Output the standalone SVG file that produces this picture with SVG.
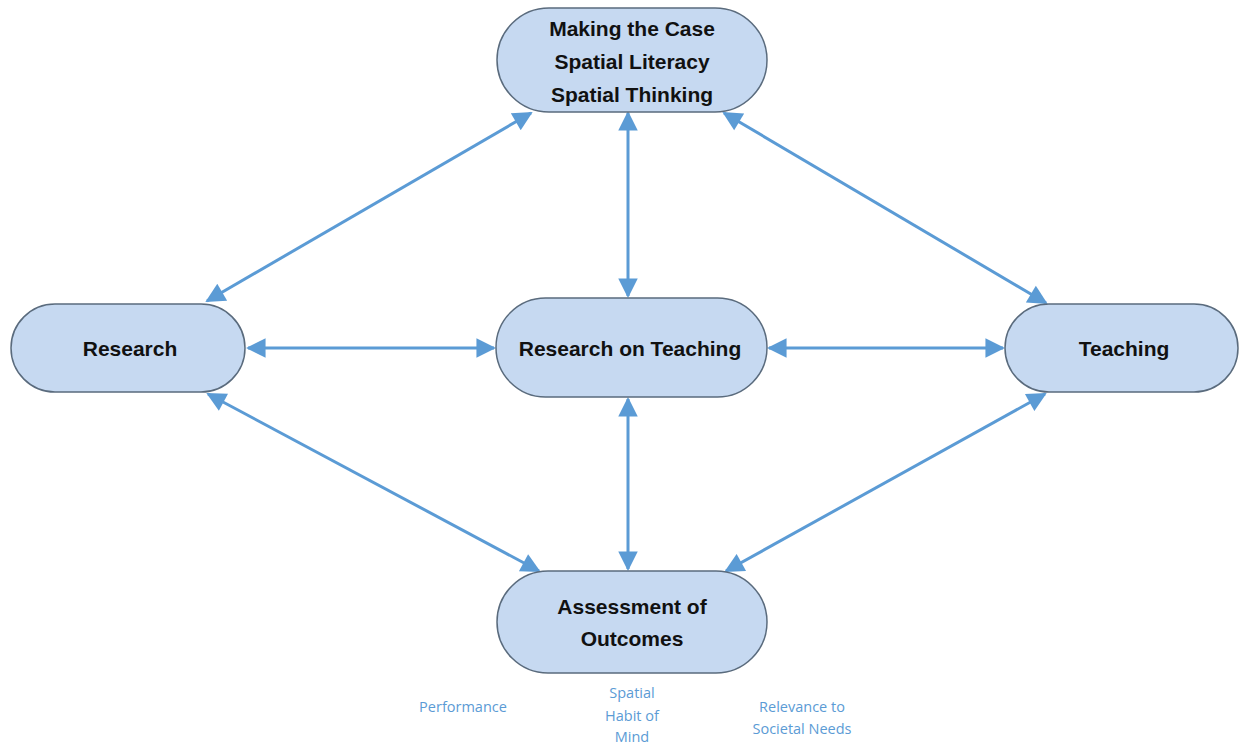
<svg xmlns="http://www.w3.org/2000/svg" width="1239" height="745" viewBox="0 0 1239 745">
<style>
.node{fill:#c6d9f1;stroke:#5a6b7d;stroke-width:1.5}
.lbl{font-family:"Liberation Sans",Arial,sans-serif;font-weight:bold;font-size:21px;fill:#111;text-anchor:middle}
.sub{font-family:"Open Sans","Liberation Sans",sans-serif;font-size:14.5px;fill:#5b9bd5;text-anchor:middle}
.conn line{stroke:#5b9bd5;stroke-width:3;marker-start:url(#ah);marker-end:url(#ah)}
</style>
<defs>
<marker id="ah" viewBox="0 0 10 10" refX="9" refY="5" markerWidth="7" markerHeight="6.5" orient="auto-start-reverse" markerUnits="strokeWidth">
<path d="M0,0 L10,5 L0,10 z" fill="#5b9bd5"/>
</marker>
</defs>
<rect width="1239" height="745" fill="#fff"/>
<g class="conn">
<line x1="531" y1="113" x2="207" y2="301"/>
<line x1="628" y1="113" x2="628" y2="296"/>
<line x1="724" y1="113" x2="1046" y2="303"/>
<line x1="248" y1="348" x2="494" y2="348"/>
<line x1="769" y1="348" x2="1003" y2="348"/>
<line x1="208" y1="394" x2="539" y2="571"/>
<line x1="628" y1="399" x2="628" y2="569"/>
<line x1="1045" y1="394" x2="726" y2="571"/>
</g>
<g id="making-case">
<rect class="node" x="497" y="8" width="270" height="104" rx="52"/>
<text class="lbl" x="632" y="36">Making the Case</text>
<text class="lbl" x="632" y="69">Spatial Literacy</text>
<text class="lbl" x="632" y="102">Spatial Thinking</text>
</g>
<g id="research">
<rect class="node" x="11" y="304" width="234" height="88" rx="44"/>
<text class="lbl" x="130" y="356">Research</text>
</g>
<g id="research-on-teaching">
<rect class="node" x="496" y="298" width="271" height="99" rx="49.5"/>
<text class="lbl" x="630" y="356">Research on Teaching</text>
</g>
<g id="teaching">
<rect class="node" x="1005" y="304" width="233" height="88" rx="44"/>
<text class="lbl" x="1124" y="356">Teaching</text>
</g>
<g id="assessment">
<rect class="node" x="497" y="571" width="270" height="102" rx="51"/>
<text class="lbl" x="632" y="614">Assessment of</text>
<text class="lbl" x="632" y="646">Outcomes</text>
</g>
<g id="notes">
<text class="sub" x="463" y="712">Performance</text>
<text class="sub" x="632" y="698">Spatial</text>
<text class="sub" x="632" y="721">Habit of</text>
<text class="sub" x="632" y="742">Mind</text>
<text class="sub" x="802" y="712">Relevance to</text>
<text class="sub" x="802" y="734">Societal  Needs</text>
</g>
</svg>
